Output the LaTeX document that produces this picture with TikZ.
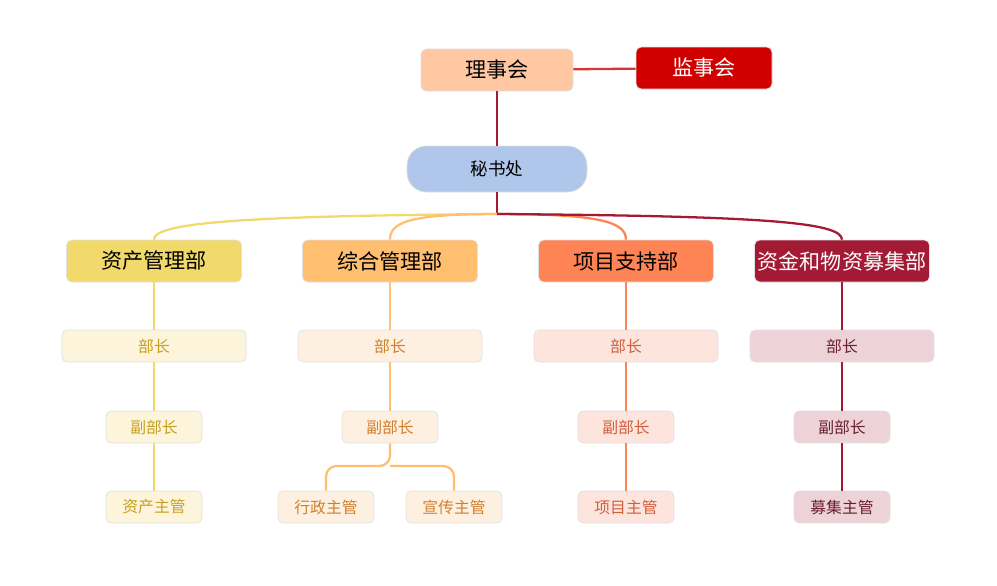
\documentclass[tikz,border=0pt]{standalone}
\usepackage{fontspec}
\setmainfont{Noto Sans CJK SC}
\begin{document}
\definecolor{lsh}{HTML}{FFC8A3}
\definecolor{jsh}{HTML}{D00000}
\definecolor{msc}{HTML}{B0C6EA}
\definecolor{zc}{HTML}{F2D96B}
\definecolor{zh}{HTML}{FFBE70}
\definecolor{xm}{HTML}{FF8455}
\definecolor{zj}{HTML}{A31A35}
\definecolor{zcl}{HTML}{FDF4DC}
\definecolor{zhl}{HTML}{FEF0E0}
\definecolor{xml}{HTML}{FDE4DC}
\definecolor{zjl}{HTML}{EDD2D8}
\begin{tikzpicture}[x=0.02cm,y=-0.02cm,
  box/.style={draw=black!12,rounded corners=3pt,inner sep=0pt,align=center},
  top/.style={box,minimum width=175*0.02cm,minimum height=42*0.02cm,font=\large},
  mid/.style={box,minimum width=184*0.02cm,minimum height=32*0.02cm,font=\small},
  sub/.style={box,minimum width=96*0.02cm,minimum height=32*0.02cm,font=\small},
  link/.style={line width=1.3pt}]
\useasboundingbox (0,0) rectangle (997,585);

\node[box,fill=lsh,minimum width=152*0.02cm,minimum height=42*0.02cm,font=\large] (lsh) at (497,70) {理事会};
\node[box,fill=jsh,text=white,minimum width=136*0.02cm,minimum height=42*0.02cm,font=\large] (jsh) at (704,68) {监事会};
\node[box,fill=msc,rounded corners=11pt,minimum width=180*0.02cm,minimum height=46*0.02cm] (msc) at (497,169) {秘书处};
\coordinate (hub) at (497,214);

\node[top,fill=zc] (zc) at (154,261) {资产管理部};
\node[top,fill=zh] (zh) at (390,261) {综合管理部};
\node[top,fill=xm] (xm) at (626,261) {项目支持部};
\node[top,fill=zj,text=white] (zj) at (842,261) {资金和物资募集部};

\foreach \n/\x/\c/\t in {zc/154/zcl/C8A020, zh/390/zhl/D08030, xm/626/xml/D06040, zj/842/zjl/6A2030}{
  \definecolor{tc}{HTML}{\t}
  \node[mid,fill=\c,text=tc] (\n bz) at (\x,346) {部长};
  \node[sub,fill=\c,text=tc] (\n fb) at (\x,427) {副部长};
}
\definecolor{tzc}{HTML}{C8A020}
\definecolor{tzh}{HTML}{D08030}
\definecolor{txm}{HTML}{D06040}
\definecolor{tzj}{HTML}{6A2030}
\node[sub,fill=zcl,text=tzc] (zczg) at (154,507) {资产主管};
\node[sub,fill=zhl,text=tzh] (xzzg) at (326,507) {行政主管};
\node[sub,fill=zhl,text=tzh] (xczg) at (454,507) {宣传主管};
\node[sub,fill=xml,text=txm] (xmzg) at (626,507) {项目主管};
\node[sub,fill=zjl,text=tzj] (mjzg) at (842,507) {募集主管};

% top links
\draw[link,zj] (lsh) -- (msc);
\draw[link,jsh!80] (lsh) -- (jsh);
\draw[link,zj] (msc) -- (hub);

% curved branches
\draw[link,zc] (hub) .. controls (250,216) and (154,222) .. (zc.north);
\draw[link,zh] (hub) .. controls (410,214) and (390,222) .. (zh.north);
\draw[link,xm] (hub) .. controls (600,214) and (626,222) .. (xm.north);
\draw[link,zj] (hub) .. controls (760,216) and (842,222) .. (zj.north);

% vertical chains
\foreach \n/\c in {zc/zc, zh/zh, xm/xm, zj/zj}{
  \draw[link,\c] (\n) -- (\n bz);
  \draw[link,\c] (\n bz) -- (\n fb);
}
\draw[link,zc] (zcfb) -- (zczg);
\draw[link,xm] (xmfb) -- (xmzg);
\draw[link,zj] (zjfb) -- (mjzg);
\draw[link,zh,rounded corners=6pt] (zhfb) -- (390,466) -| (xzzg);
\draw[link,zh,rounded corners=6pt] (390,466) -| (xczg);
\end{tikzpicture}
\end{document}
